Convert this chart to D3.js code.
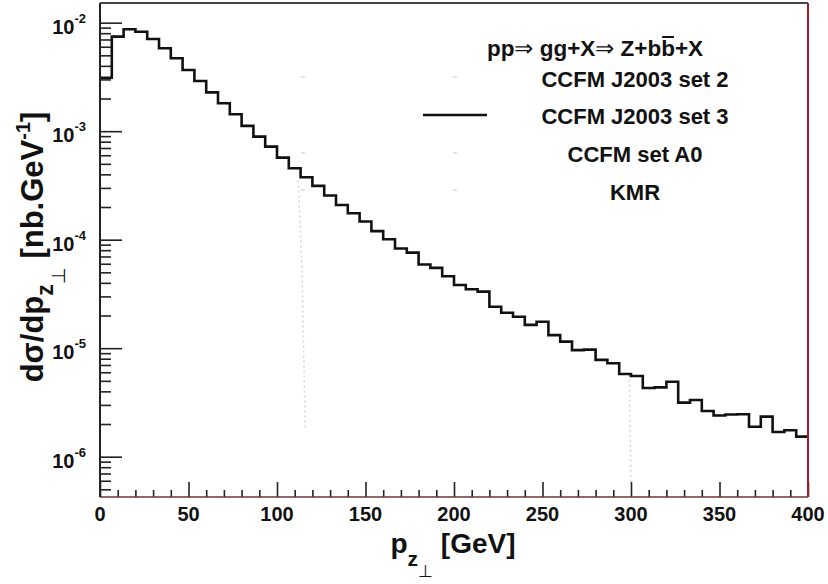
<!DOCTYPE html>
<html>
<head>
<meta charset="utf-8">
<script src="https://cdn.jsdelivr.net/npm/d3@7/dist/d3.min.js"></script>
<style>
  body { margin: 0; background: #fff; }
  text { font-family: "Liberation Sans", Arial, Helvetica, sans-serif; font-weight: bold; fill: #111; }
</style>
</head>
<body>
<div id="chart"></div>
<script>
// histogram of d sigma / d pT(Z), 60 bins between 0 and 400 GeV
var pMin = 0, pMax = 400, nBins = 60;
var set3Values = [
  3.11e-3, 7.43e-3, 8.69e-3, 8.26e-3, 7.08e-3, 5.81e-3, 4.70e-3, 3.66e-3, 2.90e-3, 2.28e-3,
  1.81e-3, 1.43e-3, 1.12e-3, 8.9e-4, 7.2e-4, 5.7e-4, 4.55e-4, 3.76e-4, 3.13e-4, 2.55e-4,
  2.09e-4, 1.75e-4, 1.47e-4, 1.20e-4, 1.01e-4, 8.3e-5, 7.6e-5, 5.9e-5, 5.5e-5, 4.6e-5,
  3.82e-5, 3.49e-5, 3.32e-5, 2.41e-5, 2.12e-5, 1.95e-5, 1.64e-5, 1.75e-5, 1.32e-5, 1.15e-5,
  9.6e-6, 9.7e-6, 7.8e-6, 7.26e-6, 5.78e-6, 5.54e-6, 4.30e-6, 4.35e-6, 4.91e-6, 3.15e-6,
  3.33e-6, 2.64e-6, 2.40e-6, 2.45e-6, 2.46e-6, 1.89e-6, 2.34e-6, 1.69e-6, 1.75e-6, 1.53e-6
];
// the other curves are nearly invisible in the picture: only faint vertical traces remain
var faintTraceA = [[112, 3.5e-4], [114, 6e-5], [116, 1.8e-6]];
var faintTraceB = [[299, 5.7e-6], [300, 5.8e-7]];
var xMajorTicks = [0, 50, 100, 150, 200, 250, 300, 350, 400];
var yDecades = [-6, -5, -4, -3, -2];
var legendTitle = ["pp", "\u21D2", " gg+X", "\u21D2", " Z+b", "b", "+X"];
var legendEntries = ["CCFM J2003 set 2", "CCFM J2003 set 3", "CCFM set A0", "KMR"];

var W = 828, H = 584;
var margin = { top: 3, right: 20, bottom: 87, left: 100 };
var width = W - margin.left - margin.right,
    height = H - margin.top - margin.bottom;

var svg = d3.select("#chart").append("svg").attr("width", W).attr("height", H);
svg.append("rect").attr("width", W).attr("height", H).attr("fill", "#fff");

var x = d3.scaleLinear().domain([pMin, pMax]).range([margin.left, margin.left + width]);
var y = d3.scaleLog().domain([4.25e-7, 0.01518]).range([margin.top + height, margin.top]);

var binW = (pMax - pMin) / nBins;
var edges = d3.range(nBins + 1).map(function (i) { return pMin + i * binW; });

// faint traces
var faintLine = d3.line().x(function (d) { return x(d[0]); }).y(function (d) { return y(d[1]); });
[faintTraceA, faintTraceB].forEach(function (tr) {
  svg.append("path").attr("d", faintLine(tr))
    .attr("fill", "none").attr("stroke", "#d4dada").attr("stroke-width", 1.6)
    .attr("stroke-dasharray", "2,3");
});

// histogram step line
var path = d3.path();
set3Values.forEach(function (v, i) {
  if (i === 0) path.moveTo(x(edges[0]), y(v));
  else path.lineTo(x(edges[i]), y(v));
  path.lineTo(x(edges[i + 1]), y(v));
});
svg.append("path").attr("d", path.toString())
  .attr("fill", "none").attr("stroke", "#111").attr("stroke-width", 2.6)
  .attr("stroke-linejoin", "miter");

// y axis ticks (log): major at decades, minor at 2..9
var allY = y.ticks();
var majorY = allY.filter(function (t) { return Math.abs(Math.log10(t) - Math.round(Math.log10(t))) < 1e-9; });
var minorY = allY.filter(function (t) { return majorY.indexOf(t) < 0; });

svg.append("g").attr("transform", "translate(" + margin.left + ",0)")
  .call(d3.axisRight(y).tickValues(majorY).tickSize(22).tickFormat(""))
  .call(function (g) { g.select(".domain").remove(); g.selectAll("line").attr("stroke", "#222").attr("stroke-width", 1.6); });
svg.append("g").attr("transform", "translate(" + margin.left + ",0)")
  .call(d3.axisRight(y).tickValues(minorY).tickSize(11).tickFormat(""))
  .call(function (g) { g.select(".domain").remove(); g.selectAll("line").attr("stroke", "#222").attr("stroke-width", 1.6); });

// y tick labels 10^k
yDecades.forEach(function (k) {
  var t = svg.append("text")
    .attr("x", 86).attr("y", y(Math.pow(10, k)) + 11)
    .attr("text-anchor", "end").attr("font-size", 20);
  t.append("tspan").text("10");
  t.append("tspan").attr("font-size", 13).attr("dy", -11).text(String(k));
});

// x axis ticks, drawn inward
var xMinor = d3.range(pMin, pMax + 1, 10).filter(function (v) { return xMajorTicks.indexOf(v) < 0; });
svg.append("g").attr("transform", "translate(0," + (margin.top + height) + ")")
  .call(d3.axisBottom(x).tickValues(xMajorTicks).tickSize(-15).tickFormat(""))
  .call(function (g) { g.select(".domain").remove(); g.selectAll("line").attr("stroke", "#222").attr("stroke-width", 1.6); });
svg.append("g").attr("transform", "translate(0," + (margin.top + height) + ")")
  .call(d3.axisBottom(x).tickValues(xMinor).tickSize(-7).tickFormat(""))
  .call(function (g) { g.select(".domain").remove(); g.selectAll("line").attr("stroke", "#222").attr("stroke-width", 1.6); });

svg.append("g").selectAll("text").data(xMajorTicks).enter().append("text")
  .attr("x", function (d) { return x(d); })
  .attr("y", 521)
  .attr("text-anchor", "middle").attr("font-size", 20)
  .text(function (d) { return d; });

// frame
var x0 = margin.left, x1 = margin.left + width, y0 = margin.top, y1 = margin.top + height;
svg.append("line").attr("x1", x0).attr("x2", x1).attr("y1", y0).attr("y2", y0).attr("stroke", "#444").attr("stroke-width", 2);
svg.append("line").attr("x1", x1).attr("x2", x1).attr("y1", y0).attr("y2", y1).attr("stroke", "#9e1c2c").attr("stroke-width", 2);
svg.append("line").attr("x1", x0).attr("x2", x1).attr("y1", y1).attr("y2", y1).attr("stroke", "#6e3434").attr("stroke-width", 1.6);
svg.append("line").attr("x1", x0).attr("x2", x0).attr("y1", y0).attr("y2", y1).attr("stroke", "#222").attr("stroke-width", 2);

// axis titles
var xt = svg.append("text").attr("x", 453).attr("y", 553).attr("text-anchor", "middle").attr("font-size", 28);
xt.append("tspan").text("p");
xt.append("tspan").attr("font-size", 21).attr("dy", 13).text("z");
xt.append("tspan").attr("font-size", 17).attr("font-weight", "normal").attr("dy", 11).text("\u22A5");
xt.append("tspan").attr("dy", -24).text(" [GeV]");

var yt = svg.append("text").attr("transform", "translate(43,247) rotate(-90)")
  .attr("text-anchor", "middle").attr("font-size", 31);
yt.append("tspan").text("d\u03C3/dp");
yt.append("tspan").attr("font-size", 23).attr("dy", 10).text("z");
yt.append("tspan").attr("font-size", 19).attr("font-weight", "normal").attr("dy", 12).text("\u22A5");
yt.append("tspan").attr("dy", -22).text(" [nb.GeV");
yt.append("tspan").attr("font-size", 20).attr("dy", -13).text("-1");
yt.append("tspan").attr("dy", 13).text("]");

// legend
var title = svg.append("text").attr("x", 595).attr("y", 56).attr("text-anchor", "middle").attr("font-size", 22.5);
legendTitle.forEach(function (s, i) {
  var ts = title.append("tspan").text(s);
  if (s === "\u21D2") ts.attr("font-weight", "normal");
});
// bar over the second b
var bIdx = legendTitle.slice(0, 5).join("").length;
var ext = title.node().getExtentOfChar(bIdx);
svg.append("line").attr("x1", ext.x + 1).attr("x2", ext.x + ext.width - 1)
  .attr("y1", ext.y + 1).attr("y2", ext.y + 1).attr("stroke", "#111").attr("stroke-width", 2);

var rowY = [87, 124, 162, 200];
legendEntries.forEach(function (s, i) {
  svg.append("text").attr("x", 635).attr("y", rowY[i]).attr("text-anchor", "middle").attr("font-size", 22).text(s);
});
svg.append("line").attr("x1", 423).attr("x2", 487).attr("y1", 115).attr("y2", 115)
  .attr("stroke", "#111").attr("stroke-width", 2.6);
// faint legend markers of the invisible curves
[77, 153, 190].forEach(function (ry) {
  [303, 455].forEach(function (rx) {
    svg.append("line").attr("x1", rx - 2).attr("x2", rx + 2).attr("y1", ry).attr("y2", ry)
      .attr("stroke", "#d4dada").attr("stroke-width", 1.5);
  });
});
</script>
</body>
</html>
